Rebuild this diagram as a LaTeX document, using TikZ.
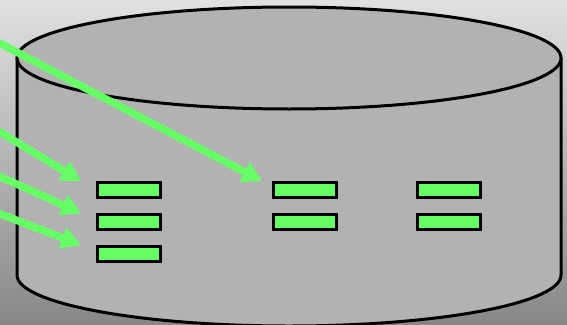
\documentclass[tikz,border=0pt]{standalone}
\usetikzlibrary{arrows.meta}
\definecolor{slotgreen}{HTML}{66FF66}
\definecolor{drumgray}{HTML}{B2B2B2}
\begin{document}
\begin{tikzpicture}[x=1pt, y=-1pt,
    slot/.style={rectangle, draw, fill=slotgreen, line width=2.5pt, minimum width=63pt, minimum height=15pt, inner sep=0pt},
    feed/.style={draw=slotgreen, line width=7.5pt, -{Triangle[length=20pt, width=21pt]}}]
    \shade[top color=black!12, bottom color=black!47] (0,0) rectangle (567,324);
    \useasboundingbox (0,0) rectangle (567,324);
    % drum body
    \fill[drumgray] (17,58) -- (17,275) arc[start angle=180, end angle=360, x radius=272pt, y radius=51pt] -- (561,58) -- cycle;
    \draw[line width=3pt] (17,58) -- (17,275) arc[start angle=180, end angle=360, x radius=272pt, y radius=51pt] -- (561,58);
    \filldraw[fill=drumgray, line width=3pt] (289,58) ellipse [x radius=272pt, y radius=51pt];
    % slots
    \node[slot] (a1) at (129,190) {};
    \node[slot] (a2) at (129,222) {};
    \node[slot] (a3) at (129,254) {};
    \node[slot] (b1) at (305,190) {};
    \node[slot] (b2) at (305,222) {};
    \node[slot] (c1) at (449,190) {};
    \node[slot] (c2) at (449,222) {};
    % incoming
    \coordinate (in0) at (-10,38);
    \coordinate (in1) at (-10,126);
    \coordinate (in2) at (-10,172);
    \coordinate (in3) at (-10,210);
    \draw[feed] (in0) -- ([xshift=-10pt]b1.north west);
    \draw[feed] (in1) -- ([xshift=-15pt]a1.north west);
    \draw[feed] (in2) -- ([xshift=-15pt]a2.north west);
    \draw[feed] (in3) -- ([xshift=-15pt]a3.north west);
\end{tikzpicture}
\end{document}
